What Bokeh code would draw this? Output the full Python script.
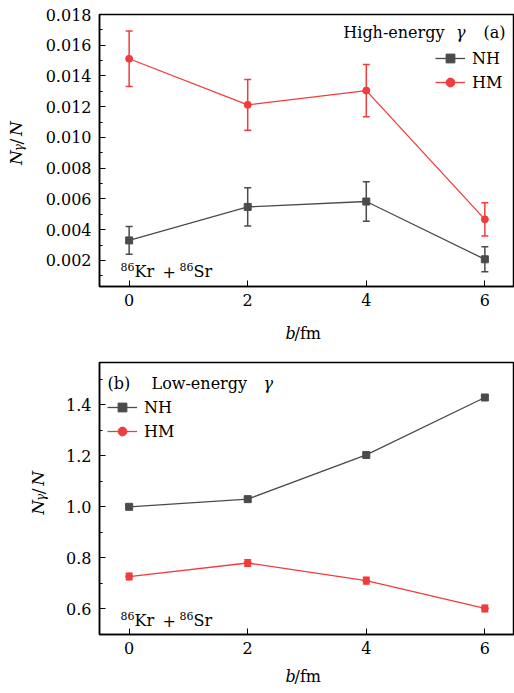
import math
from bokeh.plotting import figure
from bokeh.models import (ColumnDataSource, Whisker, FixedTicker, PrintfTickFormatter,
                          Label, Legend, LegendItem, TeeHead)
from bokeh.core.properties import value
from bokeh.layouts import column, row
from bokeh.embed import file_html
from bokeh.resources import INLINE

# ---- data ----
b_values = [0, 2, 4, 6]
xticks = [0, 2, 4, 6]

high_nh = [0.0033, 0.00548, 0.00583, 0.00207]
high_nh_err = [0.0009, 0.00125, 0.00128, 0.00081]
high_hm = [0.01512, 0.01212, 0.01305, 0.00467]
high_hm_err = [0.0018, 0.00165, 0.0017, 0.00108]

low_nh = [1.000, 1.030, 1.203, 1.428]
low_nh_err = [0.008, 0.008, 0.008, 0.008]
low_hm = [0.727, 0.780, 0.711, 0.602]
low_hm_err = [0.013, 0.013, 0.013, 0.013]

high_yticks = [0.002, 0.004, 0.006, 0.008, 0.010, 0.012, 0.014, 0.016, 0.018]
high_yminor = [0.001 * i for i in range(1, 19)]
low_yticks = [0.6, 0.8, 1.0, 1.2, 1.4]
low_yminor = [0.5 + 0.1 * i for i in range(0, 11)]

NH_COLOR = "#4b4b4b"
HM_COLOR = "#f23c3c"
FONT = "DejaVu Serif"
FS = "16px"
DY = 5  # baseline correction for in-frame labels


def helper(width, height):
    """Blank canvas used only to hold axis-title text."""
    h = figure(width=width, height=height, x_range=(0, width), y_range=(0, height),
               output_backend="svg", toolbar_location=None,
               x_axis_type=None, y_axis_type=None,
               min_border_left=0, min_border_right=0, min_border_top=0, min_border_bottom=0)
    h.grid.visible = False
    h.outline_line_color = None
    return h


def put_text(h, x, y, text, style="normal", size=FS, angle=0.0):
    h.text(x=[x], y=[y], text=[text], angle=angle, text_font=value(FONT),
           text_font_size=size, text_font_style=style, text_align="left",
           text_baseline="alphabetic", text_color="black")


def make_ylabel(width, height, x0, y0):
    h = helper(width, height)
    a = math.pi / 2
    put_text(h, x0, y0, "N", style="italic", size="17px", angle=a)
    put_text(h, x0 + 3, y0 + 16, "γ", style="italic", size="12px", angle=a)
    put_text(h, x0, y0 + 24, "/", size="17px", angle=a)
    put_text(h, x0, y0 + 34, "N", style="italic", size="17px", angle=a)
    return h


def make_xlabel(height, base):
    h = helper(514, height)
    put_text(h, 285, base, "b", style="italic")
    put_text(h, 294, base, "/fm")
    return h


def make_panel(width, height, border_left, border_top, border_bottom, y_range, yticks,
               yminor, fmt, legend_loc, nh, nh_err, hm, hm_err, kr_base):
    p = figure(width=width, height=height, x_range=(-0.5, 6.5), y_range=y_range,
               output_backend="svg", toolbar_location=None,
               min_border_left=border_left, min_border_right=0,
               min_border_top=border_top, min_border_bottom=border_bottom)
    p.grid.visible = False
    p.outline_line_color = "black"
    p.outline_line_width = 1.5
    p.background_fill_color = "white"

    for ax in (p.xaxis[0], p.yaxis[0]):
        ax.axis_line_width = 1.5
        ax.axis_line_color = "black"
        ax.major_tick_in = 6
        ax.major_tick_out = 0
        ax.minor_tick_in = 3
        ax.minor_tick_out = 0
        ax.major_tick_line_color = "black"
        ax.minor_tick_line_color = "black"
        ax.major_label_text_font = FONT
        ax.major_label_text_font_size = FS
        ax.major_label_text_color = "black"
    p.xaxis.ticker = FixedTicker(ticks=xticks, minor_ticks=[])
    p.xaxis.major_label_standoff = 7
    p.yaxis.ticker = FixedTicker(ticks=yticks, minor_ticks=yminor)
    p.yaxis.formatter = PrintfTickFormatter(format=fmt)
    p.yaxis.major_label_standoff = 8

    src_nh = ColumnDataSource(dict(x=b_values, y=nh,
                                   lo=[v - e for v, e in zip(nh, nh_err)],
                                   hi=[v + e for v, e in zip(nh, nh_err)]))
    src_hm = ColumnDataSource(dict(x=b_values, y=hm,
                                   lo=[v - e for v, e in zip(hm, hm_err)],
                                   hi=[v + e for v, e in zip(hm, hm_err)]))

    l_nh = p.line("x", "y", source=src_nh, line_color=NH_COLOR, line_width=1.3)
    l_hm = p.line("x", "y", source=src_hm, line_color=HM_COLOR, line_width=1.3)
    for src, col in ((src_nh, NH_COLOR), (src_hm, HM_COLOR)):
        w = Whisker(base="x", lower="lo", upper="hi", source=src,
                    line_color=col, line_width=1.5, level="glyph",
                    upper_head=TeeHead(size=7, line_color=col, line_width=1.5),
                    lower_head=TeeHead(size=7, line_color=col, line_width=1.5))
        p.add_layout(w)
    s_nh = p.scatter("x", "y", source=src_nh, marker="square", size=7,
                     fill_color=NH_COLOR, line_color=NH_COLOR)
    s_hm = p.scatter("x", "y", source=src_hm, marker="circle", size=7,
                     fill_color=HM_COLOR, line_color=HM_COLOR)

    legend = Legend(items=[LegendItem(label="NH", renderers=[l_nh, s_nh]),
                           LegendItem(label="HM", renderers=[l_hm, s_hm])],
                    location=legend_loc, padding=0, margin=0, spacing=2,
                    glyph_width=30, glyph_height=22, label_height=22,
                    label_standoff=7, label_text_font=FONT,
                    label_text_font_size=FS, label_text_color="black",
                    border_line_alpha=0, background_fill_alpha=0)
    p.add_layout(legend)

    def lab(x, y, text, style="normal", size=FS, align="left"):
        p.add_layout(Label(x=x, y=y + DY, x_units="screen", y_units="screen", text=text,
                           text_font=FONT, text_font_size=size,
                           text_font_style=style, text_align=align,
                           text_baseline="alphabetic", text_color="black"))

    # reaction label: 86Kr + 86Sr with real superscripts
    lab(21, kr_base + 5, "86", size="11px")
    lab(35, kr_base, "Kr")
    lab(63, kr_base, "+")
    lab(80, kr_base + 5, "86", size="11px")
    lab(94, kr_base, "Sr")
    return p, lab


# ---- panel (a) ----
ya = make_ylabel(40, 318, 15, 142)
pa, lab_a = make_panel(474, 318, 59, 14, 32, (0.0003, 0.018), high_yticks, high_yminor,
                       "%.3f", (336, 193), high_nh, high_nh_err, high_hm, high_hm_err, 10)
lab_a(345, 249, "High-energy", align="right")
lab_a(366, 249, "γ", style="italic", align="right")
lab_a(406, 249, "(a)", align="right")
xa = make_xlabel(28, 13)

# ---- panel (b) ----
yb = make_ylabel(60, 320, 37, 141)
pb, lab_b = make_panel(454, 320, 39, 16, 32, (0.5, 1.565), low_yticks, low_yminor,
                       "%.1f", (8, 192), low_nh, low_nh_err, low_hm, low_hm_err, 9)
lab_b(8, 246, "(b)")
lab_b(52, 246, "Low-energy")
lab_b(164, 246, "γ", style="italic")
xb = make_xlabel(27, 17)

layout = column(row(ya, pa, spacing=0), xa, row(yb, pb, spacing=0), xb, spacing=0)
open("out.html", "w").write(file_html(layout, INLINE))
